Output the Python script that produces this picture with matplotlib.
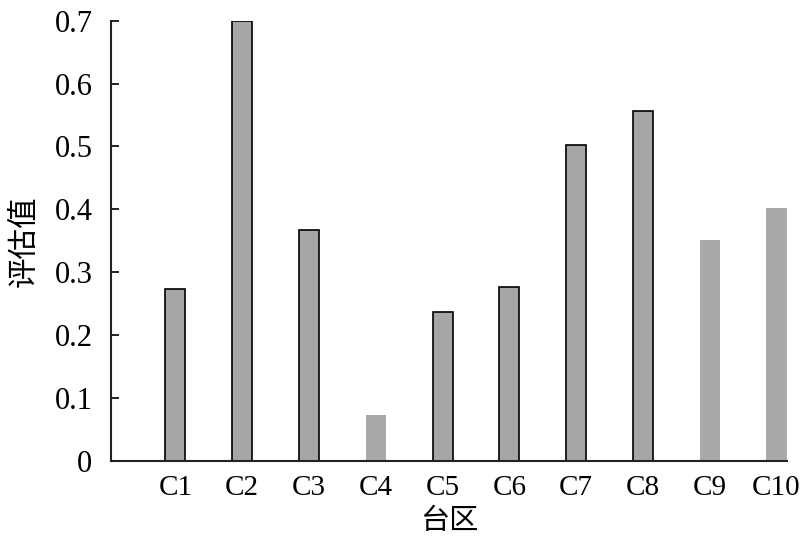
import matplotlib
matplotlib.use('Agg')
import matplotlib.pyplot as plt

categories = ['C1', 'C2', 'C3', 'C4', 'C5', 'C6', 'C7', 'C8', 'C9', 'C10']
values = [0.273, 0.700, 0.367, 0.073, 0.237, 0.277, 0.502, 0.556, 0.351, 0.402]
outlined = [True, True, True, False, True, True, True, True, False, False]

plt.rcParams['font.family'] = ['Liberation Serif', 'Noto Sans CJK SC']

fig = plt.figure(figsize=(8, 5.46), dpi=100)
ax = fig.add_axes([0.139, 0.156, 0.845, 0.806])

x = list(range(len(categories)))
for i, v in enumerate(values):
    if outlined[i]:
        ax.bar(x[i], v, width=0.3, color='#a6a6a6', edgecolor='black', linewidth=1.2)
    else:
        ax.bar(x[i], v, width=0.3, color='#a9a9a9', edgecolor='none')

ax.set_xlim(-0.96, 9.16)
ax.set_ylim(0, 0.7)
ax.set_yticks([0, 0.1, 0.2, 0.3, 0.4, 0.5, 0.6, 0.7])
ax.set_yticklabels(['0', '0.1', '0.2', '0.3', '0.4', '0.5', '0.6', '0.7'])
ax.set_xticks(x)
ax.set_xticklabels(categories)
ax.tick_params(axis='y', direction='in', length=6, width=1.2, labelsize=22, pad=13.5)
ax.tick_params(axis='x', length=0, labelsize=21, pad=10)

for s in ['top', 'right']:
    ax.spines[s].set_visible(False)
for s in ['left', 'bottom']:
    ax.spines[s].set_linewidth(1.5)
    ax.spines[s].set_color('#222222')

ax.set_xlabel('台区', fontsize=21, family=['Noto Sans CJK SC'], labelpad=4)
ax.set_ylabel('评估值', fontsize=22, family=['Noto Sans CJK SC'], labelpad=11)

plt.savefig('out.png', dpi=100)
